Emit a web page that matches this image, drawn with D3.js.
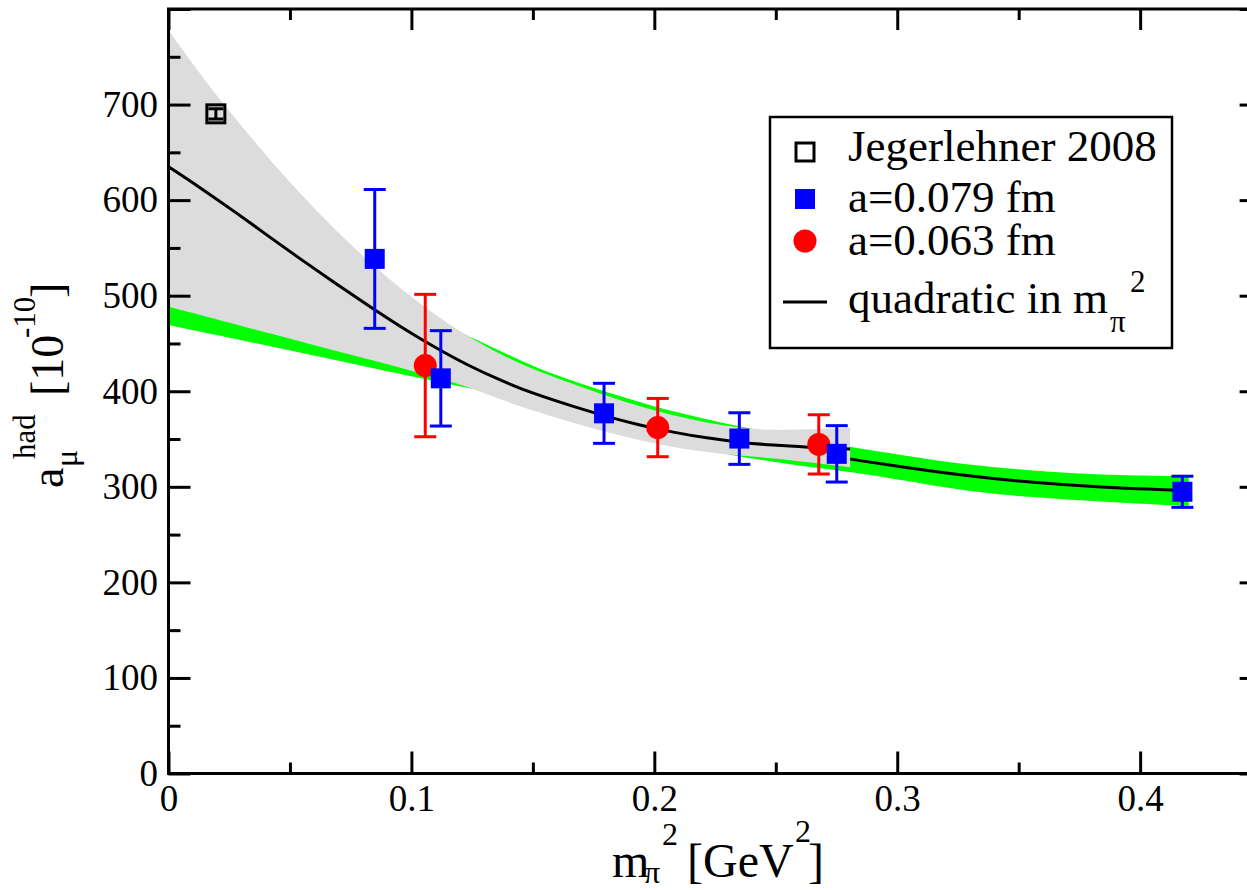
<!DOCTYPE html>
<html>
<head>
<meta charset="utf-8">
<script src="https://cdn.jsdelivr.net/npm/d3@7/dist/d3.min.js"></script>
<style>
  html, body { margin: 0; padding: 0; background: #fff; }
  svg { display: block; }
  text { font-family: "Liberation Serif", "Times New Roman", serif; fill: #000; }
</style>
</head>
<body>
<svg id="chart" width="1247" height="890"></svg>
<script>
// ---------------- data ----------------
const xTickLabels = ["0", "0.1", "0.2", "0.3", "0.4"];
const xMajor = [0, 0.1, 0.2, 0.3, 0.4];
const xMinor = [0.05, 0.15, 0.25, 0.35];
const yTickLabels = ["0", "100", "200", "300", "400", "500", "600", "700"];
const yMajor = [0, 100, 200, 300, 400, 500, 600, 700, 800];
const yMinor = [50, 150, 250, 350, 450, 550, 650, 750];

// Jegerlehner 2008
const jegX = [0.0195];
const jegY = [690.3];
const jegErr = [5.3];

// a = 0.079 fm (blue squares)
const blueX = [0.0849, 0.1121, 0.1793, 0.2350, 0.2751, 0.4174];
const blueY = [538.5, 413.5, 376.9, 350.5, 334.5, 294.8];
const blueErr = [72.7, 49.9, 31.4, 27.0, 29.5, 16.3];

// a = 0.063 fm (red circles)
const redX = [0.1057, 0.2014, 0.2677];
const redY = [426.9, 362.0, 344.4];
const redErr = [74.5, 30.5, 31.0];

// quadratic fit (black line) with its grey error band
const fitX = [0, 0.0135, 0.0273, 0.041, 0.0547, 0.0684, 0.0821, 0.0958, 0.1096, 0.1233, 0.137, 0.1507, 0.1667, 0.1804, 0.1941, 0.2078, 0.2216, 0.2353, 0.249, 0.2627, 0.2806];
const fitY = [635, 612.3, 587.9, 562.5, 537.6, 513.5, 490, 467, 446, 427, 411, 397, 384, 373.5, 364.5, 357, 351, 346.5, 343.5, 341.5, 339.5];

const greyX  = [0, 0.0197, 0.0526, 0.0821, 0.1055, 0.1233, 0.137, 0.1507, 0.1667, 0.1804, 0.1941, 0.2078, 0.2216, 0.2353, 0.249, 0.2627, 0.2806];
const greyUp = [778, 708, 609, 535, 487, 457, 438, 422, 407.5, 395, 384, 374.5, 367, 361.5, 359, 360, 362];
const greyLo = [488.4, 475.3, 453.3, 433.6, 418, 405, 391, 379, 367, 357, 348.5, 341.5, 336, 332.5, 330, 326, 320.5];

// green band with its central line (visible beyond the grey band)
const greenX  = [0, 0.0526, 0.1055, 0.126, 0.137, 0.1507, 0.1645, 0.1804, 0.2078, 0.2353, 0.249, 0.2627, 0.2806, 0.3012, 0.3286, 0.356, 0.3835, 0.4137, 0.42];
const greenUp = [575, 530, 478, 455, 441.5, 425.5, 412.5, 399, 378, 363, 356, 349, 342, 333.3, 322.8, 316.9, 312.3, 311.3, 311];
const greenLo = [469.3, 441.6, 412.5, 402, 397, 388, 378, 365, 346, 331, 326.5, 321, 315.8, 307.5, 295, 289, 284.4, 280.5, 280];
const greenLineX = [0.2806, 0.3012, 0.3286, 0.356, 0.3835, 0.4137, 0.42];
const greenLineY = [329, 321, 311.3, 304.3, 299.5, 296.6, 296.3];

const legendLabels = ["Jegerlehner 2008", "a=0.079 fm", "a=0.063 fm", "quadratic in m"];

// ---------------- layout ----------------
const svg = d3.select("#chart");
const L = 168.5, R = 1261.6, T = 9, B = 773.5;
const x = d3.scaleLinear().domain([0, 0.45]).range([L, R]);
const y = d3.scaleLinear().domain([0, 800]).range([B, T]);

svg.append("defs").append("clipPath").attr("id", "plotclip")
  .append("rect").attr("x", L).attr("y", T).attr("width", R - L).attr("height", B - T);
const plot = svg.append("g").attr("clip-path", "url(#plotclip)");

const GREEN = "#00ff00", GREY = "#dcdcdc", BLUE = "#0000ff", RED = "#ff0000";

function band(xs, up, lo) {
  const pts = xs.map((d, i) => ({x: d, u: up[i], l: lo[i]}));
  return d3.area().x(d => x(d.x)).y0(d => y(d.l)).y1(d => y(d.u)).curve(d3.curveBasis)(pts);
}
function line(xs, ys) {
  return d3.line().x(d => x(d[0])).y(d => y(d[1])).curve(d3.curveBasis)(xs.map((d, i) => [d, ys[i]]));
}

// bands
plot.append("path").attr("d", band(greenX, greenUp, greenLo)).attr("fill", GREEN);
plot.append("path").attr("d", line(greenLineX, greenLineY)).attr("fill", "none").attr("stroke", "#000").attr("stroke-width", 3);
plot.append("path").attr("d", band(greyX, greyUp, greyLo)).attr("fill", GREY);
plot.append("path").attr("d", line(fitX, fitY)).attr("fill", "none").attr("stroke", "#000").attr("stroke-width", 3);

// error bars
function errorBars(xs, ys, es, color, cap) {
  const g = plot.append("g").attr("stroke", color).attr("stroke-width", 3).attr("fill", "none");
  xs.forEach((xv, i) => {
    const cx = x(xv), y1 = y(ys[i] + es[i]), y0 = y(ys[i] - es[i]);
    g.append("line").attr("x1", cx).attr("x2", cx).attr("y1", y1).attr("y2", y0);
    g.append("line").attr("x1", cx - cap / 2).attr("x2", cx + cap / 2).attr("y1", y1).attr("y2", y1);
    g.append("line").attr("x1", cx - cap / 2).attr("x2", cx + cap / 2).attr("y1", y0).attr("y2", y0);
  });
}

// Jegerlehner
errorBars(jegX, jegY, jegErr, "#000", 15);
plot.selectAll(".jeg").data(jegX).join("rect")
  .attr("x", (d) => x(d) - 9).attr("y", (d, i) => y(jegY[i]) - 9)
  .attr("width", 18).attr("height", 18)
  .attr("fill", "none").attr("stroke", "#000").attr("stroke-width", 3);

// red circles
errorBars(redX, redY, redErr, RED, 22);
plot.selectAll(".red").data(redX).join("circle")
  .attr("cx", d => x(d)).attr("cy", (d, i) => y(redY[i])).attr("r", 11.5).attr("fill", RED);

// blue squares
errorBars(blueX, blueY, blueErr, BLUE, 22);
plot.selectAll(".blue").data(blueX).join("rect")
  .attr("x", d => x(d) - 10).attr("y", (d, i) => y(blueY[i]) - 10)
  .attr("width", 20).attr("height", 20).attr("fill", BLUE);

// ---------------- axes ----------------
function styleAxis(g) {
  g.select(".domain").remove();
  g.selectAll("line").attr("stroke", "#000").attr("stroke-width", 3);
  g.selectAll("text").attr("font-family", "Liberation Serif, Times New Roman, serif").attr("font-size", 37).attr("fill", "#000");
}
// bottom
svg.append("g").attr("transform", `translate(0,${B})`)
  .call(d3.axisBottom(x).tickValues(xMajor).tickSizeInner(-22).tickSizeOuter(0).tickPadding(11)
    .tickFormat((d, i) => xTickLabels[i])).call(styleAxis);
svg.append("g").attr("transform", `translate(0,${B})`)
  .call(d3.axisBottom(x).tickValues(xMinor).tickSizeInner(-11).tickSizeOuter(0).tickFormat("")).call(styleAxis);
// top
svg.append("g").attr("transform", `translate(0,${T})`)
  .call(d3.axisTop(x).tickValues(xMajor).tickSizeInner(-21).tickSizeOuter(0).tickFormat("")).call(styleAxis);
svg.append("g").attr("transform", `translate(0,${T})`)
  .call(d3.axisTop(x).tickValues(xMinor).tickSizeInner(-11).tickSizeOuter(0).tickFormat("")).call(styleAxis);
// left
svg.append("g").attr("transform", `translate(${L},0)`)
  .call(d3.axisLeft(y).tickValues(yMajor).tickSizeInner(-22).tickSizeOuter(0).tickPadding(10.5)
    .tickFormat((d, i) => yTickLabels[i] !== undefined ? yTickLabels[i] : "")).call(styleAxis);
svg.append("g").attr("transform", `translate(${L},0)`)
  .call(d3.axisLeft(y).tickValues(yMinor).tickSizeInner(-12).tickSizeOuter(0).tickFormat("")).call(styleAxis);
// right
svg.append("g").attr("transform", `translate(${R},0)`)
  .call(d3.axisRight(y).tickValues(yMajor).tickSizeInner(-22).tickSizeOuter(0).tickFormat("")).call(styleAxis);
svg.append("g").attr("transform", `translate(${R},0)`)
  .call(d3.axisRight(y).tickValues(yMinor).tickSizeInner(-12).tickSizeOuter(0).tickFormat("")).call(styleAxis);

// frame
svg.append("rect").attr("x", L).attr("y", T).attr("width", R - L).attr("height", B - T)
  .attr("fill", "none").attr("stroke", "#000").attr("stroke-width", 3);

// ---------------- axis titles ----------------
const xt = svg.append("text").attr("font-size", 48);
xt.append("tspan").attr("x", 612).attr("y", 877).text("m");
xt.append("tspan").attr("x", 644).attr("y", 883).attr("font-size", 32).text("π");
xt.append("tspan").attr("x", 662).attr("y", 845).attr("font-size", 32).text("2");
xt.append("tspan").attr("x", 687).attr("y", 877).text("[GeV");
xt.append("tspan").attr("x", 795).attr("y", 842).attr("font-size", 32).text("2");
xt.append("tspan").attr("x", 808).attr("y", 877).text("]");

const yt = svg.append("text").attr("transform", "rotate(-90)").attr("font-size", 46);
yt.append("tspan").attr("x", -488).attr("y", 63).text("a");
yt.append("tspan").attr("x", -467).attr("y", 77).attr("font-size", 32).text("μ");
yt.append("tspan").attr("x", -459).attr("y", 35).attr("font-size", 31).text("had");
yt.append("tspan").attr("x", -396).attr("y", 63).text("[10");
yt.append("tspan").attr("x", -338).attr("y", 35).attr("font-size", 31).text("-10");
yt.append("tspan").attr("x", -298).attr("y", 63).text("]");

// ---------------- legend ----------------
const lg = svg.append("g");
lg.append("rect").attr("x", 770).attr("y", 117).attr("width", 402).attr("height", 231)
  .attr("fill", "#fff").attr("stroke", "#000").attr("stroke-width", 2.5);
lg.append("rect").attr("x", 796).attr("y", 143).attr("width", 18).attr("height", 18)
  .attr("fill", "none").attr("stroke", "#000").attr("stroke-width", 3);
lg.append("rect").attr("x", 795).attr("y", 189).attr("width", 20).attr("height", 20).attr("fill", BLUE);
lg.append("circle").attr("cx", 805).attr("cy", 241).attr("r", 11.5).attr("fill", RED);
lg.append("line").attr("x1", 783).attr("x2", 827).attr("y1", 302).attr("y2", 302)
  .attr("stroke", "#000").attr("stroke-width", 3);
const lys = [160.5, 211.5, 255, 313];
legendLabels.forEach((t, i) => {
  lg.append("text").attr("x", 848).attr("y", lys[i]).attr("font-size", 45).text(t);
});
lg.append("text").attr("x", 1110).attr("y", 332).attr("font-size", 31).text("π");
lg.append("text").attr("x", 1130).attr("y", 292).attr("font-size", 31).text("2");
</script>
</body>
</html>
